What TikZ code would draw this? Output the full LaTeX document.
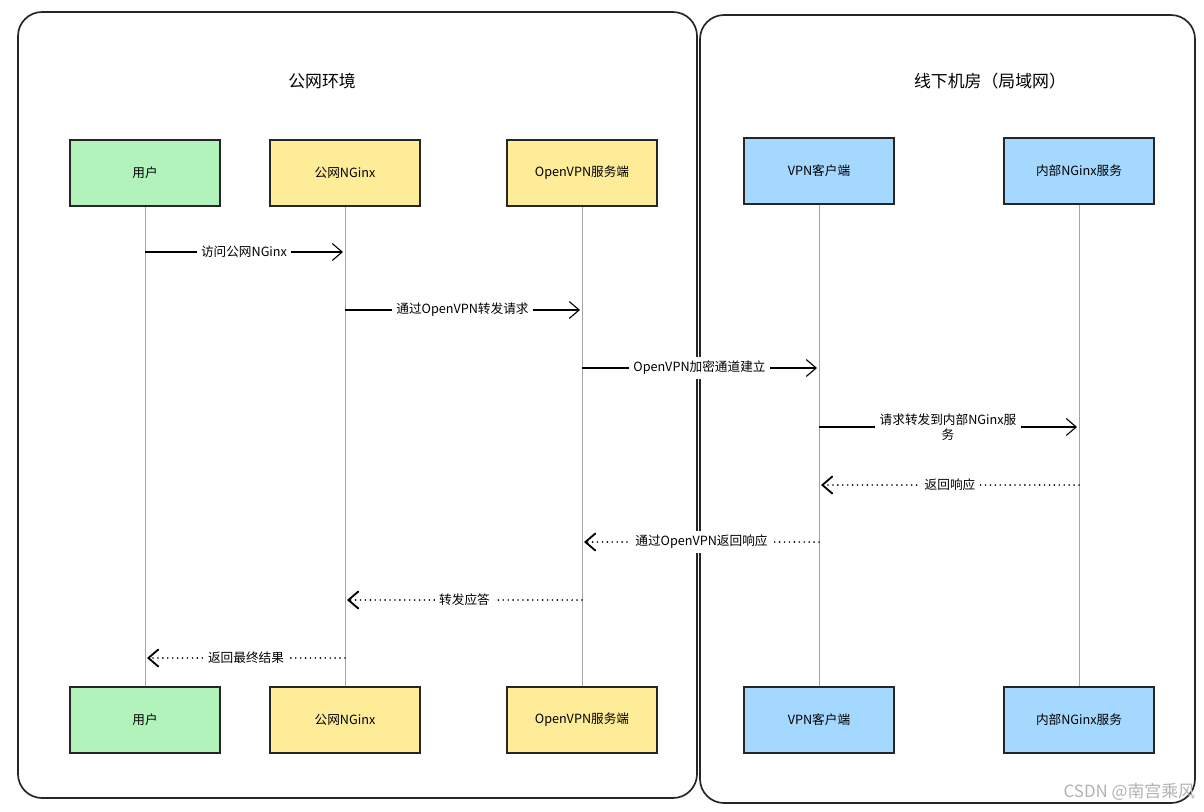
\documentclass[tikz,border=0pt]{standalone}
\usepackage{fontspec}
\setmainfont{Noto Sans CJK SC}
\usetikzlibrary{arrows.meta}
\definecolor{boxgreen}{HTML}{B2F2BB}
\definecolor{boxyellow}{HTML}{FFEC99}
\definecolor{boxblue}{HTML}{A5D8FF}
\tikzset{
  actor/.style={draw=black!85, thick, minimum width=3.75cm, minimum height=1.65cm, font=\small},
  panel/.style={draw=black!85, very thick, rounded corners=0.6cm},
  life/.style={gray!70, thin},
  req/.style={thick, -{Straight Barb[length=7pt,width=12pt]}},
  resp/.style={line width=1.3pt, line cap=round, dash pattern=on 0pt off 3.5pt,
    -{Straight Barb[length=7pt,width=12pt,line cap=round]}},
  msg/.style={fill=white, font=\small, inner sep=3pt}
}
\begin{document}
\begin{tikzpicture}[x=0.025cm, y=-0.025cm]
\useasboundingbox (0,0) rectangle (1204,811);

\draw[panel] (18,12) rectangle (697,798);
\draw[panel] (700,15) rectangle (1195,803);
\node[font=\large] (t1) at (322,81) {公网环境};
\node[font=\large] (t2) at (990,81) {线下机房（局域网）};

% top and bottom actors
\node[actor, fill=boxgreen] (u1) at (145,173) {用户};
\node[actor, fill=boxyellow] (n1) at (345,173) {公网NGinx};
\node[actor, fill=boxyellow] (s1) at (582,173) {OpenVPN服务端};
\node[actor, fill=boxblue] (c1) at (819,171) {VPN客户端};
\node[actor, fill=boxblue] (i1) at (1079,171) {内部NGinx服务};
\node[actor, fill=boxgreen] (u2) at (145,720) {用户};
\node[actor, fill=boxyellow] (n2) at (345,720) {公网NGinx};
\node[actor, fill=boxyellow] (s2) at (582,720) {OpenVPN服务端};
\node[actor, fill=boxblue] (c2) at (819,720) {VPN客户端};
\node[actor, fill=boxblue] (i2) at (1079,720) {内部NGinx服务};

\foreach \a/\b in {u1/u2, n1/n2, s1/s2, c1/c2, i1/i2}
  \draw[life] (\a) -- (\b);

% message end points
\coordinate (m1a) at (145,252); \coordinate (m1b) at (343,252);
\coordinate (m2a) at (345,310); \coordinate (m2b) at (580,310);
\coordinate (m3a) at (582,368); \coordinate (m3b) at (817,368);
\coordinate (m4a) at (819,427); \coordinate (m4b) at (1077,427);
\coordinate (m5a) at (1079,485); \coordinate (m5b) at (821,485);
\coordinate (m6a) at (819,542); \coordinate (m6b) at (584,542);
\coordinate (m7a) at (582,600); \coordinate (m7b) at (347,600);
\coordinate (m8a) at (345,658); \coordinate (m8b) at (147,658);

\draw[req] (m1a) -- node[msg] {访问公网NGinx} (m1b);
\draw[req] (m2a) -- node[msg] {通过OpenVPN转发请求} (m2b);
\draw[req] (m3a) -- node[msg] {OpenVPN加密通道建立} (m3b);
\draw[req] (m4a) -- node[msg, align=center] {请求转发到内部NGinx服\\务} (m4b);
\draw[resp] (m5a) -- node[msg] {返回响应} (m5b);
\draw[resp] (m6a) -- node[msg] {通过OpenVPN返回响应} (m6b);
\draw[resp] (m7a) -- node[msg] {转发应答} (m7b);
\draw[resp] (m8a) -- node[msg] {返回最终结果} (m8b);

\node[gray!60, font=\large, anchor=east] (wm) at (1200,792) {CSDN @南宫乘风};
\end{tikzpicture}
\end{document}
